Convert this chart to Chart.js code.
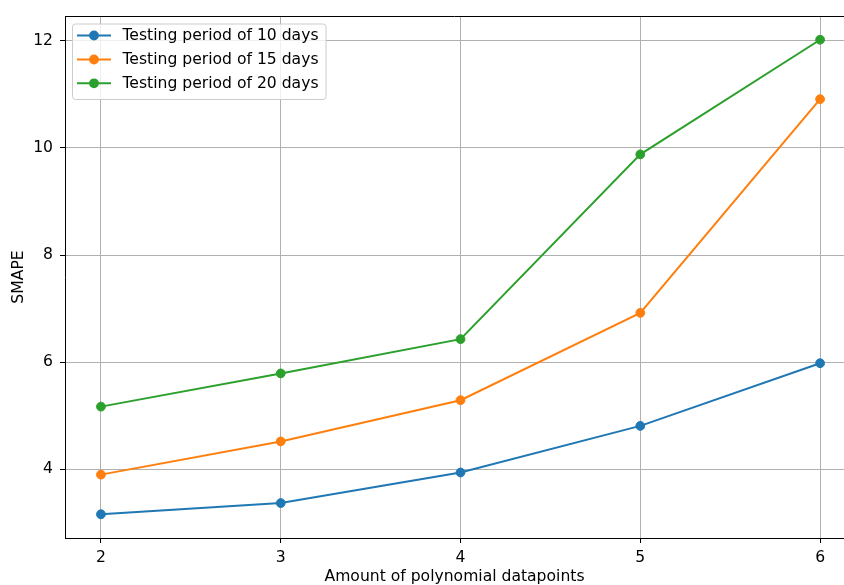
<!DOCTYPE html>
<html>
<head>
<meta charset="utf-8">
<script src="https://cdn.jsdelivr.net/npm/chart.js@4/dist/chart.umd.min.js"></script>
<style>
  html, body { margin: 0; padding: 0; background: #fff; overflow: hidden; }
  canvas { display: block; }
</style>
</head>
<body>
<canvas id="myChart" width="844" height="585"></canvas>
<script>
/* data */
const categories = [2, 3, 4, 5, 6];
const days10 = [3.16, 3.37, 3.94, 4.81, 5.98];
const days15 = [3.90, 4.52, 5.29, 6.92, 10.91];
const days20 = [5.17, 5.79, 6.43, 9.88, 12.02];
const seriesLabels = ['Testing period of 10 days', 'Testing period of 15 days', 'Testing period of 20 days'];
const xTicks = [2, 3, 4, 5, 6];
const yTicks = [4, 6, 8, 10, 12];

const colors = ['#1f77b4', '#ff7f0e', '#2ca02c'];
const FONT = 'DejaVu Sans';
const FS = 15.6;

function points(values) {
  return categories.map(function (c, i) { return { x: c, y: values[i] }; });
}

function makeSet(label, values, color) {
  return {
    label: label,
    data: points(values),
    borderColor: color,
    backgroundColor: color,
    borderWidth: 2,
    pointRadius: 4.4,
    pointBorderWidth: 1,
    pointBorderColor: color,
    pointBackgroundColor: color,
    tension: 0,
  };
}

// top spine + matplotlib style legend box
const framePlugin = {
  id: 'frame',
  afterDraw: function (chart) {
    const ctx = chart.ctx;
    const a = chart.chartArea;
    ctx.save();
    ctx.strokeStyle = '#000';
    ctx.lineWidth = 1;
    ctx.beginPath();
    ctx.moveTo(a.left, a.top + 0.5);
    ctx.lineTo(a.right, a.top + 0.5);
    ctx.stroke();

    // legend
    const bx = 72.5, by = 24, bw = 253.5, bh = 75.5, r = 3;
    ctx.beginPath();
    ctx.moveTo(bx + r, by);
    ctx.lineTo(bx + bw - r, by);
    ctx.quadraticCurveTo(bx + bw, by, bx + bw, by + r);
    ctx.lineTo(bx + bw, by + bh - r);
    ctx.quadraticCurveTo(bx + bw, by + bh, bx + bw - r, by + bh);
    ctx.lineTo(bx + r, by + bh);
    ctx.quadraticCurveTo(bx, by + bh, bx, by + bh - r);
    ctx.lineTo(bx, by + r);
    ctx.quadraticCurveTo(bx, by, bx + r, by);
    ctx.closePath();
    ctx.fillStyle = 'rgba(255,255,255,0.8)';
    ctx.fill();
    ctx.strokeStyle = '#cccccc';
    ctx.stroke();

    const rows = [35.5, 59.5, 83.3];
    ctx.font = FS + 'px "' + FONT + '"';
    ctx.textBaseline = 'middle';
    ctx.textAlign = 'left';
    chart.data.datasets.forEach(function (ds, i) {
      const y = rows[i];
      ctx.strokeStyle = ds.borderColor;
      ctx.lineWidth = 2;
      ctx.beginPath();
      ctx.moveTo(77, y);
      ctx.lineTo(111, y);
      ctx.stroke();
      ctx.fillStyle = ds.borderColor;
      ctx.beginPath();
      ctx.arc(94, y, 4.9, 0, Math.PI * 2);
      ctx.fill();
      ctx.fillStyle = '#000';
      ctx.fillText(ds.label, 122.5, y + 0.5);
    });
    ctx.restore();
  }
};

var ctx = document.getElementById('myChart').getContext('2d');
new Chart(ctx, {
  type: 'line',
  data: {
    datasets: [
      makeSet(seriesLabels[0], days10, colors[0]),
      makeSet(seriesLabels[1], days15, colors[1]),
      makeSet(seriesLabels[2], days20, colors[2]),
    ],
  },
  options: {
    responsive: false,
    devicePixelRatio: 1,
    animation: false,
    events: [],
    layout: { autoPadding: false, padding: { top: 16, left: 0, right: 0, bottom: 0 } },
    plugins: {
      legend: { display: false },
      tooltip: { enabled: false },
    },
    scales: {
      x: {
        type: 'linear',
        min: 1.8,
        max: 6.133,
        afterBuildTicks: function (axis) {
          axis.ticks = xTicks.map(function (v) { return { value: v }; });
        },
        afterFit: function (axis) {
          axis.height = 47;
          axis.paddingLeft = 0;
          axis.paddingRight = 0;
        },
        grid: { color: '#b0b0b0', lineWidth: 1, tickColor: '#000', tickLength: 5 },
        border: { color: '#000', width: 1 },
        ticks: {
          color: '#000',
          font: { family: FONT, size: FS },
          padding: 6,
          maxRotation: 0,
          callback: function (v) { return v; },
        },
        title: {
          display: true,
          text: 'Amount of polynomial datapoints',
          color: '#000',
          font: { family: FONT, size: FS },
          padding: { top: 0, bottom: -1.5 },
        },
      },
      y: {
        type: 'linear',
        min: 2.717,
        max: 12.463,
        afterBuildTicks: function (axis) {
          axis.ticks = yTicks.map(function (v) { return { value: v }; });
        },
        afterFit: function (axis) {
          axis.width = 65;
          axis.paddingTop = 0;
          axis.paddingBottom = 0;
        },
        grid: { color: '#b0b0b0', lineWidth: 1, tickColor: '#000', tickLength: 5 },
        border: { color: '#000', width: 1 },
        ticks: {
          color: '#000',
          font: { family: FONT, size: FS },
          padding: 7,
          callback: function (v) { return v; },
        },
        title: {
          display: true,
          text: 'SMAPE',
          color: '#000',
          font: { family: FONT, size: FS },
          padding: { top: 10, bottom: 0 },
        },
      },
    },
  },
  plugins: [framePlugin],
});
</script>
</body>
</html>
